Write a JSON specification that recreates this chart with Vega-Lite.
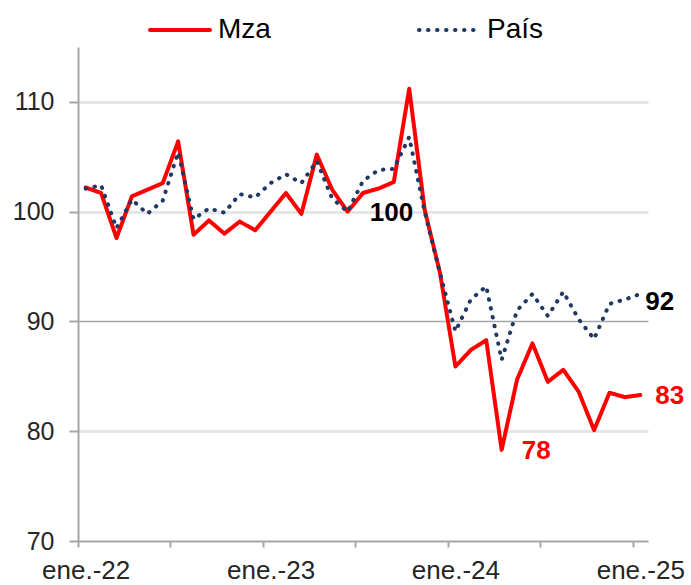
{
  "$schema": "https://vega.github.io/schema/vega-lite/v6.json",
  "width": 570,
  "height": 494,
  "autosize": {"type": "none"},
  "padding": {"left": 78, "top": 47, "right": 43, "bottom": 44},
  "background": "white",
  "config": {"font": "Liberation Sans", "view": {"stroke": null}},
  "datasets": {
    "series": [
      {"t": 0, "serie": "Mza", "v": 102.2}, {"t": 1, "serie": "Mza", "v": 101.7}, {"t": 2, "serie": "Mza", "v": 97.6},
      {"t": 3, "serie": "Mza", "v": 101.4}, {"t": 4, "serie": "Mza", "v": 102.0}, {"t": 5, "serie": "Mza", "v": 102.6},
      {"t": 6, "serie": "Mza", "v": 106.4}, {"t": 7, "serie": "Mza", "v": 97.9}, {"t": 8, "serie": "Mza", "v": 99.2},
      {"t": 9, "serie": "Mza", "v": 98.0}, {"t": 10, "serie": "Mza", "v": 99.1}, {"t": 11, "serie": "Mza", "v": 98.3},
      {"t": 12, "serie": "Mza", "v": 100.0}, {"t": 13, "serie": "Mza", "v": 101.7}, {"t": 14, "serie": "Mza", "v": 99.8},
      {"t": 15, "serie": "Mza", "v": 105.2}, {"t": 16, "serie": "Mza", "v": 102.0}, {"t": 17, "serie": "Mza", "v": 100.0},
      {"t": 18, "serie": "Mza", "v": 101.7}, {"t": 19, "serie": "Mza", "v": 102.1}, {"t": 20, "serie": "Mza", "v": 102.7},
      {"t": 21, "serie": "Mza", "v": 111.2}, {"t": 22, "serie": "Mza", "v": 100.2}, {"t": 23, "serie": "Mza", "v": 94.4},
      {"t": 24, "serie": "Mza", "v": 85.9}, {"t": 25, "serie": "Mza", "v": 87.4}, {"t": 26, "serie": "Mza", "v": 88.3},
      {"t": 27, "serie": "Mza", "v": 78.3}, {"t": 28, "serie": "Mza", "v": 84.7}, {"t": 29, "serie": "Mza", "v": 88.0},
      {"t": 30, "serie": "Mza", "v": 84.5}, {"t": 31, "serie": "Mza", "v": 85.6}, {"t": 32, "serie": "Mza", "v": 83.6},
      {"t": 33, "serie": "Mza", "v": 80.1}, {"t": 34, "serie": "Mza", "v": 83.5}, {"t": 35, "serie": "Mza", "v": 83.1},
      {"t": 36, "serie": "Mza", "v": 83.3},
      {"t": 0, "serie": "País", "v": 102.1}, {"t": 1, "serie": "País", "v": 102.4}, {"t": 2, "serie": "País", "v": 98.5},
      {"t": 3, "serie": "País", "v": 101.1}, {"t": 4, "serie": "País", "v": 99.8}, {"t": 5, "serie": "País", "v": 101.0},
      {"t": 6, "serie": "País", "v": 105.4}, {"t": 7, "serie": "País", "v": 99.3}, {"t": 8, "serie": "País", "v": 100.3},
      {"t": 9, "serie": "País", "v": 99.9}, {"t": 10, "serie": "País", "v": 101.6}, {"t": 11, "serie": "País", "v": 101.3},
      {"t": 12, "serie": "País", "v": 102.6}, {"t": 13, "serie": "País", "v": 103.4}, {"t": 14, "serie": "País", "v": 102.6},
      {"t": 15, "serie": "País", "v": 104.6}, {"t": 16, "serie": "País", "v": 101.2}, {"t": 17, "serie": "País", "v": 100.0},
      {"t": 18, "serie": "País", "v": 102.8}, {"t": 19, "serie": "País", "v": 103.8}, {"t": 20, "serie": "País", "v": 103.9},
      {"t": 21, "serie": "País", "v": 106.8}, {"t": 22, "serie": "País", "v": 100.0}, {"t": 23, "serie": "País", "v": 94.4},
      {"t": 24, "serie": "País", "v": 89.1}, {"t": 25, "serie": "País", "v": 92.0}, {"t": 26, "serie": "País", "v": 93.2},
      {"t": 27, "serie": "País", "v": 86.5}, {"t": 28, "serie": "País", "v": 91.0}, {"t": 29, "serie": "País", "v": 92.5},
      {"t": 30, "serie": "País", "v": 90.5}, {"t": 31, "serie": "País", "v": 92.7}, {"t": 32, "serie": "País", "v": 90.2},
      {"t": 33, "serie": "País", "v": 88.4}, {"t": 34, "serie": "País", "v": 91.6}, {"t": 35, "serie": "País", "v": 92.0},
      {"t": 36, "serie": "País", "v": 92.5}
    ],
    "labels": [
      {"t": 18.44, "v": 99.88, "label": "100", "serie": "País"},
      {"t": 36.32, "v": 91.8, "label": "92", "serie": "País"},
      {"t": 36.97, "v": 83.2, "label": "83", "serie": "Mza"},
      {"t": 28.31, "v": 78.2, "label": "78", "serie": "Mza"}
    ]
  },
  "layer": [
    {
      "data": {"name": "series"},
      "mark": {"type": "line", "strokeWidth": 4, "strokeCap": "round", "strokeJoin": "round"},
      "encoding": {
        "x": {
          "field": "t", "type": "quantitative",
          "scale": {"domain": [-0.5, 36.5], "nice": false, "zero": false},
          "axis": {
            "title": null,
            "values": [-0.5, 5.5, 11.5, 17.5, 23.5, 29.5, 35.5],
            "labelExpr": "datum.value == -0.5 ? 'ene.-22' : datum.value == 11.5 ? 'ene.-23' : datum.value == 23.5 ? 'ene.-24' : datum.value == 35.5 ? 'ene.-25' : ''",
            "labelOffset": 7.7,
            "labelFlush": false,
            "labelOverlap": false,
            "grid": false,
            "domainColor": "#a6a6a6", "domainWidth": 2,
            "tickColor": "#a6a6a6", "tickWidth": 2, "tickSize": 6,
            "labelFontSize": 26, "labelColor": "#262626", "labelPadding": 10
          }
        },
        "y": {
          "field": "v", "type": "quantitative",
          "scale": {"domain": [70, 115], "nice": false, "zero": false},
          "axis": {
            "title": null,
            "values": [70, 80, 90, 100, 110],
            "grid": true,
            "gridColor": {"condition": {"test": "datum.value === 90", "value": "#a6a6a6"}, "value": "#e6e6e6"},
            "gridWidth": {"condition": {"test": "datum.value === 90", "value": 1.3}, "value": 3},
            "gridOpacity": {"condition": {"test": "datum.value === 70", "value": 0}, "value": 1},
            "domainColor": "#a6a6a6", "domainWidth": 2,
            "tickColor": "#a6a6a6", "tickWidth": 2, "tickSize": 9,
            "labelFontSize": 25, "labelColor": "#262626", "labelPadding": 15
          }
        },
        "color": {
          "field": "serie", "type": "nominal",
          "scale": {"domain": ["Mza", "País"], "range": ["#ff0000", "#1f3864"]},
          "legend": {
            "title": null, "orient": "none", "legendX": 70, "legendY": -49,
            "direction": "horizontal", "symbolType": "stroke", "symbolSize": 3600,
            "symbolStrokeWidth": 4, "labelFontSize": 28, "labelColor": "#000000",
            "labelOffset": 6, "columnPadding": 140,
            "encode": {"symbols": {"update": {"strokeCap": {"value": "round"}}}}
          }
        },
        "strokeDash": {
          "field": "serie", "type": "nominal",
          "scale": {"domain": ["Mza", "País"], "range": [[1, 0], [0.5, 8.5]]},
          "legend": {
            "title": null, "orient": "none", "legendX": 70, "legendY": -49,
            "direction": "horizontal", "symbolType": "stroke", "symbolSize": 3600,
            "symbolStrokeWidth": 4, "labelFontSize": 28, "labelColor": "#000000",
            "labelOffset": 6, "columnPadding": 140,
            "encode": {"symbols": {"update": {"strokeCap": {"value": "round"}}}}
          }
        }
      }
    },
    {
      "data": {"name": "labels"},
      "transform": [{"filter": "datum.serie === 'País'"}],
      "mark": {"type": "text", "fontSize": 26, "fontWeight": "bold", "color": "#000000", "align": "left", "baseline": "middle"},
      "encoding": {
        "x": {"field": "t", "type": "quantitative"},
        "y": {"field": "v", "type": "quantitative"},
        "text": {"field": "label"}
      }
    },
    {
      "data": {"name": "labels"},
      "transform": [{"filter": "datum.serie === 'Mza'"}],
      "mark": {"type": "text", "fontSize": 26, "fontWeight": "bold", "color": "#ff0000", "align": "left", "baseline": "middle"},
      "encoding": {
        "x": {"field": "t", "type": "quantitative"},
        "y": {"field": "v", "type": "quantitative"},
        "text": {"field": "label"}
      }
    }
  ]
}
